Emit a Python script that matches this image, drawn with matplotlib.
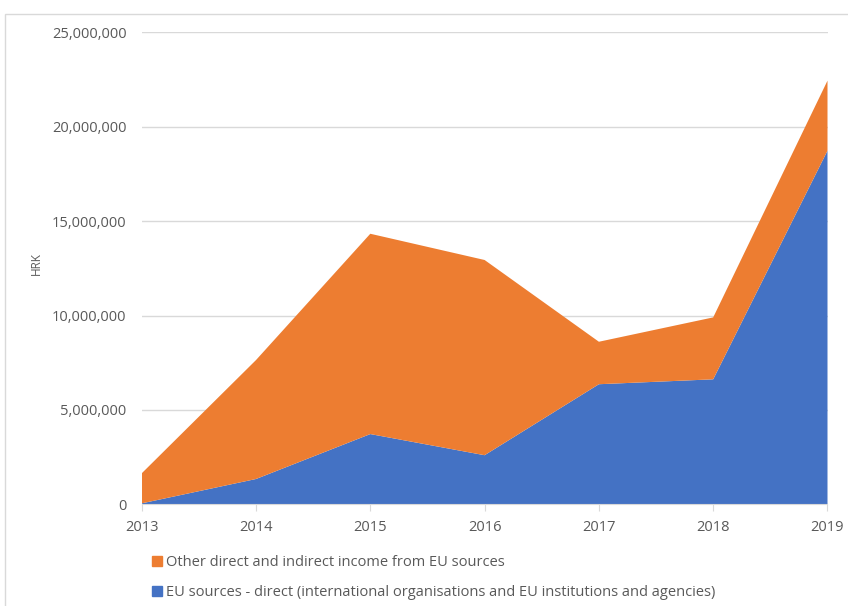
import matplotlib
matplotlib.use("Agg")
import matplotlib.pyplot as plt
from matplotlib.patches import Rectangle, Patch
from matplotlib.ticker import FuncFormatter

years = [2013, 2014, 2015, 2016, 2017, 2018, 2019]
eu_direct = [50000, 1340000, 3720000, 2600000, 6360000, 6620000, 18730000]
other_eu = [1590000, 6300000, 10610000, 10340000, 2250000, 3280000, 3710000]
series_labels = ["EU sources - direct (international organisations and EU institutions and agencies)",
                 "Other direct and indirect income from EU sources"]
y_ticks = [0, 5000000, 10000000, 15000000, 20000000, 25000000]

BLUE = "#4472C4"
ORANGE = "#ED7D31"
TXT = "#595959"
plt.rcParams['font.family'] = ['Open Sans', 'DejaVu Sans']

W, H = 848, 606
fig = plt.figure(figsize=(W / 100, H / 100), dpi=100)
ax = fig.add_axes([141.7 / W, 1 - 504.3 / H, (827.5 - 141.7) / W, (504.3 - 32.3) / H])

ax.stackplot(years, eu_direct, other_eu, colors=[BLUE, ORANGE], labels=series_labels, linewidth=0)
ax.set_xlim(2013, 2019)
ax.set_ylim(0, 25000000)
ax.set_yticks(y_ticks)
ax.set_xticks(years)
ax.yaxis.set_major_formatter(FuncFormatter(lambda v, p: f"{int(v):,}"))
ax.grid(axis='y', color='#d9d9d9', linewidth=1)
ax.set_axisbelow(True)
for s in ['top', 'right', 'left']:
    ax.spines[s].set_visible(False)
ax.spines['bottom'].set_color('#d9d9d9')
ax.tick_params(axis='y', length=0, labelsize=10.5, labelcolor=TXT, pad=11)
ax.tick_params(axis='x', length=5, color='#d9d9d9', labelsize=10.5, labelcolor=TXT, pad=6)
ax.set_ylabel("")
fig.text(36 / W, 1 - 264 / H, "HRK", rotation=90, fontsize=8.5, color=TXT,
         ha='center', va='center')

handles = [Patch(color=ORANGE), Patch(color=BLUE)]
fig.legend(handles, [series_labels[1], series_labels[0]], loc='upper left',
           bbox_to_anchor=(146 / W, 1 - 549 / H), frameon=False, fontsize=10.5,
           labelcolor=TXT, handlelength=0.7, handleheight=0.7, handletextpad=0.25,
           labelspacing=1.05, borderaxespad=0)

fig.patches.append(Rectangle((5 / W, -0.1), 1.2, 1 - 14 / H + 0.1, transform=fig.transFigure,
                             fill=False, edgecolor='#d9d9d9', linewidth=1))
fig.savefig("out.png", dpi=100)
